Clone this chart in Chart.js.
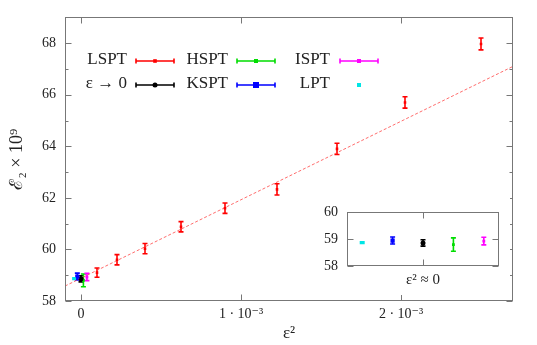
<!DOCTYPE html>
<html>
<head>
<meta charset="utf-8">
<script src="https://cdn.jsdelivr.net/npm/chart.js@4.4.1/dist/chart.umd.min.js"></script>
<style>
  body { margin: 0; background: #fff; }
  #wrap { position: relative; width: 537px; height: 345px; }
  #mainChart { position: absolute; left: 0; top: 0; }
  #insetChart { position: absolute; left: 300px; top: 195px; background: #fff; }
</style>
</head>
<body>
<div id="wrap">
  <canvas id="mainChart" width="537" height="345"></canvas>
  <canvas id="insetChart" width="210" height="100"></canvas>
</div>
<script>
// LSPT series (eps^2 and energy)
const lsptX = [1.0e-4, 2.25e-4, 4.0e-4, 6.25e-4, 9.0e-4, 1.225e-3, 1.6e-3, 2.025e-3, 2.5e-3];
const lsptY = [59.10, 59.60, 60.03, 60.88, 61.60, 62.33, 63.90, 65.70, 67.97];
const lsptErr = [0.18, 0.2, 0.2, 0.2, 0.2, 0.22, 0.22, 0.22, 0.23];

// linear fit (dashed line), end points
const fitX = [-1.0e-4, 2.7e-3];
const fitY = [58.58, 67.10];

// eps^2 -> 0 results
const zeroNames = ["LPT", "KSPT", "ε → 0", "HSPT", "ISPT"];
const zeroColors = ["#00e5e5", "#0000ff", "#000000", "#00dd00", "#ff00ff"];
const zeroX = [-0.04e-3, -0.023e-3, 0, 0.015e-3, 0.037e-3]; // small offsets in main plot
const zeroPos = [-2, -1, 0, 1, 2];                            // positions in the inset
const zeroY = [58.87, 58.95, 58.86, 58.80, 58.93];
const zeroErr = [0.03, 0.13, 0.12, 0.25, 0.14];
const zeroStyle = ["rect", "rect", "circle", "rect", "rect"];
const zeroRadius = [2, 3, 2.5, 2, 2];

// ticks
const xTickVals = [0, 0.001, 0.002];
const xTickLabels = ["0", "1 · 10⁻³", "2 · 10⁻³"];
const yTickVals = [58, 59, 60, 61, 62, 63, 64, 65, 66, 67, 68];
const yTickLabels = ["58", "", "60", "", "62", "", "64", "", "66", "", "68"];
const insetYTicks = [58, 59, 60];

const legendOrder = ["LSPT", "HSPT", "ISPT", "ε → 0", "KSPT", "LPT"];

const serif = '"Liberation Serif", "DejaVu Serif", serif';

// vertical error bars with caps
const errorBars = {
  id: "errorBars",
  beforeDatasetsDraw(chart) {
    const ctx = chart.ctx;
    const yScale = chart.scales.y;
    chart.data.datasets.forEach((ds, i) => {
      if (!ds.errors) return;
      const meta = chart.getDatasetMeta(i);
      ctx.save();
      ctx.strokeStyle = ds.borderColor;
      ctx.lineWidth = 1.6;
      meta.data.forEach((pt, j) => {
        const v = ds.data[j].y;
        const top = yScale.getPixelForValue(v + ds.errors[j]);
        const bot = yScale.getPixelForValue(v - ds.errors[j]);
        ctx.beginPath();
        ctx.moveTo(pt.x, top); ctx.lineTo(pt.x, bot);
        ctx.moveTo(pt.x - 2.5, top); ctx.lineTo(pt.x + 2.5, top);
        ctx.moveTo(pt.x - 2.5, bot); ctx.lineTo(pt.x + 2.5, bot);
        ctx.stroke();
      });
      ctx.restore();
    });
  }
};

// gnuplot-like frame with inward ticks
const frameTicks = {
  id: "frameTicks",
  afterDraw(chart) {
    const { ctx, chartArea: a, scales: { x, y } } = chart;
    const L = Math.round(a.left) + 0.5, R = Math.round(a.right) - 0.5;
    const T = Math.round(a.top) + 0.5, B = Math.round(a.bottom) - 0.5;
    ctx.save();
    ctx.strokeStyle = "#777";
    ctx.lineWidth = 1;
    ctx.strokeRect(L, T, R - L, B - T);
    ctx.beginPath();
    y.ticks.forEach(t => {
      const py = Math.round(y.getPixelForValue(t.value)) + 0.5;
      const len = t.label ? 6 : 3;
      ctx.moveTo(L, py); ctx.lineTo(L + len, py);
      ctx.moveTo(R, py); ctx.lineTo(R - len, py);
    });
    x.ticks.forEach(t => {
      const px = Math.round(x.getPixelForValue(t.value)) + 0.5;
      ctx.moveTo(px, B); ctx.lineTo(px, B - 6);
      ctx.moveTo(px, T); ctx.lineTo(px, T + 6);
    });
    ctx.stroke();
    ctx.restore();
  }
};

function drawMark(ctx, style, r, x, y, color) {
  ctx.fillStyle = color;
  if (style === "circle") {
    ctx.beginPath();
    ctx.arc(x, y, r, 0, Math.PI * 2);
    ctx.fill();
  } else {
    ctx.fillRect(x - r, y - r, 2 * r, 2 * r);
  }
}

// legend: "label  |--•--|" in two rows of three
const keyLegend = {
  id: "keyLegend",
  afterDraw(chart) {
    const ctx = chart.ctx;
    const textRight = [127, 228, 330];
    const sampleX = [136, 237, 340];
    const rowY = [61, 85];
    ctx.save();
    legendOrder.forEach((name, k) => {
      const ds = chart.data.datasets.find(d => d.label === name);
      const col = k % 3, row = Math.floor(k / 3);
      const y = rowY[row];
      ctx.fillStyle = "#222";
      ctx.font = "17px " + serif;
      ctx.textAlign = "right";
      ctx.textBaseline = "middle";
      ctx.fillText(name, textRight[col], y - 1);
      const x0 = sampleX[col], x1 = x0 + 38, cx = (x0 + x1) / 2;
      if (ds.keyBar) {
        ctx.strokeStyle = ds.borderColor;
        ctx.lineWidth = 1.6;
        ctx.beginPath();
        ctx.moveTo(x0, y); ctx.lineTo(x1, y);
        ctx.moveTo(x0, y - 2.5); ctx.lineTo(x0, y + 2.5);
        ctx.moveTo(x1, y - 2.5); ctx.lineTo(x1, y + 2.5);
        ctx.stroke();
      }
      drawMark(ctx, ds.pointStyle, ds.pointRadius, cx, y, ds.borderColor);
    });
    ctx.restore();
  }
};

Chart.register(errorBars, frameTicks);

function zeroDatasets(xs) {
  return zeroNames.map((name, i) => ({
    label: name,
    data: [{ x: xs[i], y: zeroY[i] }],
    errors: [zeroErr[i]],
    borderColor: zeroColors[i],
    backgroundColor: zeroColors[i],
    pointStyle: zeroStyle[i],
    pointRadius: zeroRadius[i],
    pointBorderWidth: 0,
    keyBar: name !== "LPT"
  }));
}

new Chart(document.getElementById("mainChart"), {
  type: "scatter",
  data: {
    datasets: [
      ...zeroDatasets(zeroX),
      {
        label: "LSPT",
        data: lsptX.map((x, i) => ({ x: x, y: lsptY[i] })),
        errors: lsptErr,
        borderColor: "#ff0000",
        backgroundColor: "#ff0000",
        pointStyle: "rect",
        pointRadius: 1.8,
        pointBorderWidth: 0,
        keyBar: true
      },
      {
        label: "fit",
        type: "line",
        data: fitX.map((x, i) => ({ x: x, y: fitY[i] })),
        borderColor: "rgba(255, 60, 60, 0.75)",
        borderWidth: 1,
        borderDash: [3, 2],
        pointRadius: 0,
        fill: false
      }
    ]
  },
  options: {
    responsive: false,
    animation: false,
    layout: { padding: { top: 16, right: 24, left: 0, bottom: 0 } },
    plugins: { legend: { display: false }, tooltip: { enabled: false } },
    scales: {
      x: {
        type: "linear",
        min: -1.0e-4,
        max: 2.7e-3,
        grid: { display: false, drawTicks: false },
        border: { display: false },
        afterBuildTicks: s => { s.ticks = xTickVals.map(v => ({ value: v })); },
        afterFit: s => { s.height = 44; },
        ticks: {
          padding: 5,
          maxRotation: 0,
          color: "#222",
          font: { family: serif, size: 14 },
          callback: (v, i) => xTickLabels[i]
        },
        title: {
          display: true,
          text: "ε²",
          color: "#222",
          font: { family: serif, size: 17 },
          padding: { bottom: 1 }
        }
      },
      y: {
        min: 58,
        max: 69,
        grid: { display: false, drawTicks: false },
        border: { display: false },
        afterBuildTicks: s => { s.ticks = yTickVals.map(v => ({ value: v })); },
        afterFit: s => { s.width = 65; },
        ticks: {
          padding: 9,
          color: "#222",
          font: { family: serif, size: 14 },
          callback: (v, i) => yTickLabels[i]
        },
        title: {
          display: true,
          text: "ℰ₂ × 10⁹",
          color: "#222",
          font: { family: serif, size: 18 },
          padding: { top: 6 }
        }
      }
    }
  },
  plugins: [keyLegend]
});

new Chart(document.getElementById("insetChart"), {
  type: "scatter",
  data: { datasets: zeroDatasets(zeroPos) },
  options: {
    responsive: false,
    animation: false,
    layout: { padding: { top: 10, right: 11, left: 0, bottom: 0 } },
    plugins: { legend: { display: false }, tooltip: { enabled: false } },
    scales: {
      x: {
        type: "linear",
        min: -2.5,
        max: 2.5,
        grid: { display: false, drawTicks: false },
        border: { display: false },
        afterBuildTicks: s => { s.ticks = [{ value: 0 }]; },
        afterFit: s => { s.height = 29; },
        ticks: { display: true, callback: () => "", font: { size: 1 }, padding: 0 },
        title: {
          display: true,
          text: "ε² ≈ 0",
          color: "#222",
          font: { family: serif, size: 15 },
          padding: { bottom: 6 }
        }
      },
      y: {
        min: 58,
        max: 60,
        grid: { display: false, drawTicks: false },
        border: { display: false },
        afterBuildTicks: s => { s.ticks = insetYTicks.map(v => ({ value: v })); },
        afterFit: s => { s.width = 47; },
        ticks: {
          padding: 9,
          color: "#222",
          font: { family: serif, size: 14 },
          callback: v => String(v)
        }
      }
    }
  }
});
</script>
</body>
</html>
